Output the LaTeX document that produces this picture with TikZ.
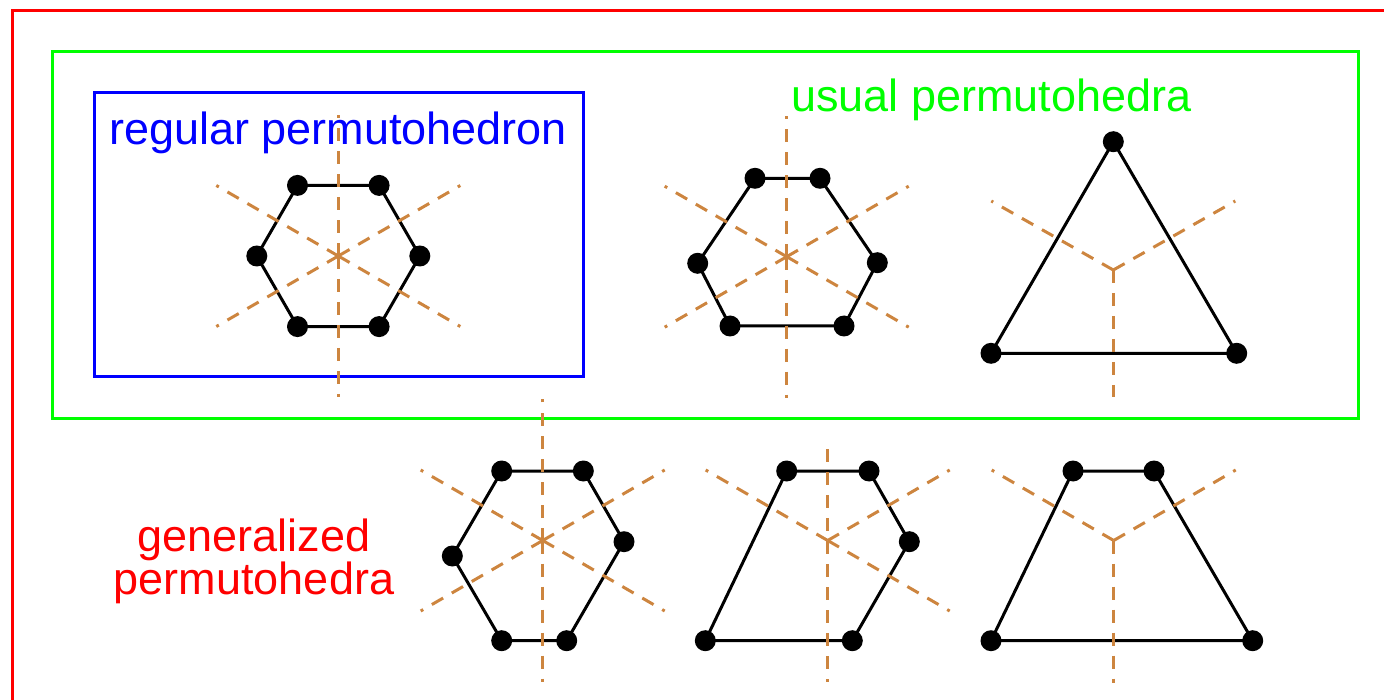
\documentclass[tikz,border=0pt]{standalone}
\usepackage{fontspec}
\setmainfont{Liberation Sans}
\definecolor{axiscol}{RGB}{205,133,63}
\begin{document}
\begin{tikzpicture}[x=1pt,y=-1pt,
  dot/.style={circle,fill=black,inner sep=0pt,minimum size=21pt},
  edge/.style={draw=black,line width=3pt,line join=round},
  axis/.style={draw=axiscol,line width=3pt,dash pattern=on 13pt off 10pt},
  frame/.style={line width=3pt},
  lbl/.style={font=\fontsize{45}{41}\selectfont,inner sep=0pt}]
\useasboundingbox (0,0) rectangle (1384,700);
\clip (0,0) rectangle (1384,700);
% frames
\draw[red,frame] (12,11) rectangle (1430,760);
\draw[green,frame] (52,52) rectangle (1358,418);
\draw[blue,frame] (94,93) rectangle (583,377);
% labels
\node[lbl,text=blue,anchor=base west] (tregular) at (109,145) {regular permutohedron};
\node[lbl,text=green,anchor=base west] (tusual) at (791,112) {usual permutohedra};
\node[lbl,text=red,align=center,anchor=base] (tgen) at (254,594) {generalized\\permutohedra};
% ---------- polygon 1: regular hexagon
\coordinate (c1) at (338.3,256);
\node[dot] (a1) at (297.5,185.4) {};
\node[dot] (a2) at (379.1,185.4) {};
\node[dot] (a3) at (419.8,256) {};
\node[dot] (a4) at (379.1,326.6) {};
\node[dot] (a5) at (297.5,326.6) {};
\node[dot] (a6) at (256.8,256) {};
\draw[edge] (a1.center) -- (a2.center) -- (a3.center) -- (a4.center) -- (a5.center) -- (a6.center) -- cycle;
% ---------- polygon 2
\coordinate (c2) at (786.7,256.7);
\node[dot] (b1) at (755,178.3) {};
\node[dot] (b2) at (820,178.3) {};
\node[dot] (b3) at (877.3,262.7) {};
\node[dot] (b4) at (844,326) {};
\node[dot] (b5) at (730,326) {};
\node[dot] (b6) at (697.7,263.3) {};
\draw[edge] (b1.center) -- (b2.center) -- (b3.center) -- (b4.center) -- (b5.center) -- (b6.center) -- cycle;
% ---------- polygon 3: triangle
\coordinate (c3) at (1113.3,270);
\node[dot] (e1) at (1113.3,141.7) {};
\node[dot] (e2) at (1236.7,353.3) {};
\node[dot] (e3) at (991,353.3) {};
\draw[edge] (e1.center) -- (e2.center) -- (e3.center) -- cycle;
% ---------- polygon 4: bottom hexagon
\coordinate (c4) at (542.7,540.5);
\node[dot] (f1) at (501.7,471) {};
\node[dot] (f2) at (583.3,471) {};
\node[dot] (f3) at (624,541.7) {};
\node[dot] (f4) at (566.7,640.7) {};
\node[dot] (f5) at (501.7,640.7) {};
\node[dot] (f6) at (452.3,556) {};
\draw[edge] (f1.center) -- (f2.center) -- (f3.center) -- (f4.center) -- (f5.center) -- (f6.center) -- cycle;
% ---------- polygon 5: pentagon
\coordinate (c5) at (827.7,540.5);
\node[dot] (g1) at (786.7,471) {};
\node[dot] (g2) at (869,471) {};
\node[dot] (g3) at (909.3,541.7) {};
\node[dot] (g4) at (852.3,640.7) {};
\node[dot] (g5) at (705.3,640.7) {};
\draw[edge] (g1.center) -- (g2.center) -- (g3.center) -- (g4.center) -- (g5.center) -- cycle;
% ---------- polygon 6: trapezoid
\coordinate (c6) at (1113.7,540.5);
\node[dot] (h1) at (1073,471) {};
\node[dot] (h2) at (1154,471) {};
\node[dot] (h3) at (1252.7,640.7) {};
\node[dot] (h4) at (991,640.7) {};
\draw[edge] (h1.center) -- (h2.center) -- (h3.center) -- (h4.center) -- cycle;
% ---------- dashed axes
\foreach \c in {c1,c2,c4}{
  \draw[axis] (\c) -- ++(0,-141);
  \draw[axis] (\c) -- ++(0,141);
  \draw[axis] (\c) -- ++(122,-70.5);
  \draw[axis] (\c) -- ++(-122,-70.5);
  \draw[axis] (\c) -- ++(122,70.5);
  \draw[axis] (\c) -- ++(-122,70.5);
}
\draw[axis] (c3) -- ++(0,127);
\draw[axis] (c3) -- ++(122,-69);
\draw[axis] (c3) -- ++(-122,-69);
\coordinate (c5top) at (827.7,449);
\draw[axis] (c5top) -- ++(0,233);
\draw[axis] (c5) -- ++(122,-70.5);
\draw[axis] (c5) -- ++(-122,-70.5);
\draw[axis] (c5) -- ++(122,70.5);
\draw[axis] (c6) -- ++(0,142);
\draw[axis] (c6) -- ++(122,-70.5);
\draw[axis] (c6) -- ++(-122,-70.5);
\end{tikzpicture}
\end{document}
